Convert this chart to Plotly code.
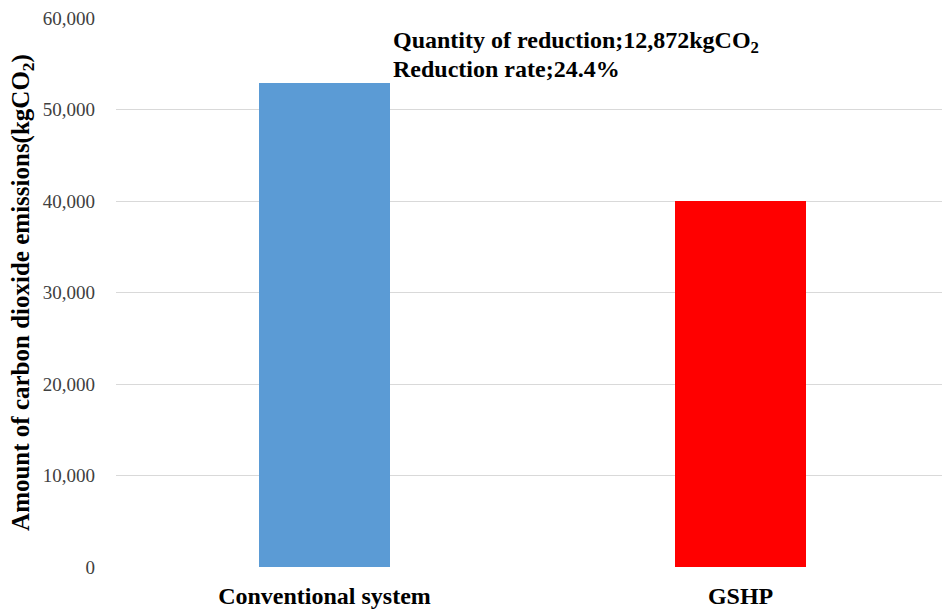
import plotly.graph_objects as go

categories = ["Conventional system", "GSHP"]
emissions = [52900, 40028]
bar_colors = ["#5b9bd5", "#ff0000"]
y_ticks = [0, 10000, 20000, 30000, 40000, 50000, 60000]
y_tick_labels = ["0", "10,000", "20,000", "30,000", "40,000", "50,000", "60,000"]
note_lines = ["Quantity of reduction;12,872kgCO<sub>2</sub>", "Reduction rate;24.4%"]

FONT = "Liberation Serif, Times New Roman, serif"
xpos = list(range(len(categories)))

fig = go.Figure()
fig.add_trace(go.Bar(
    x=xpos, y=emissions, marker_color=bar_colors, width=0.315,
    marker_line_width=0, showlegend=False,
))

for line, ypaper in zip(note_lines, [0.956, 0.907]):
    fig.add_annotation(
        x=0.16, y=ypaper, xref="x", yref="paper", xanchor="left", yanchor="middle",
        text="<b>" + line + "</b>", showarrow=False, align="left",
        font=dict(family=FONT, size=24, color="#000000"),
    )

fig.update_layout(
    width=942, height=612,
    margin=dict(l=116, r=0, t=18, b=45),
    plot_bgcolor="white", paper_bgcolor="white",
    bargap=0,
    xaxis=dict(
        range=[-0.501, 1.484], tickmode="array", tickvals=xpos,
        ticktext=["<b>" + c + "</b>" for c in categories],
        showgrid=False, zeroline=False, showline=False,
        tickfont=dict(family=FONT, size=24, color="#000000"),
        ticklabelstandoff=12,
    ),
    yaxis=dict(
        range=[0, 60000], tickmode="array", tickvals=y_ticks, ticktext=y_tick_labels,
        showgrid=True, gridcolor="#d9d9d9", gridwidth=1, zeroline=False, showline=False,
        tickfont=dict(family=FONT, size=19, color="#404040"),
        ticklabelstandoff=20,
        title=dict(text="<b>Amount of carbon dioxide emissions(kgCO<sub>2</sub>)</b>",
                   font=dict(family=FONT, size=25, color="#000000"), standoff=6),
    ),
)
fig.write_html("out.html")
